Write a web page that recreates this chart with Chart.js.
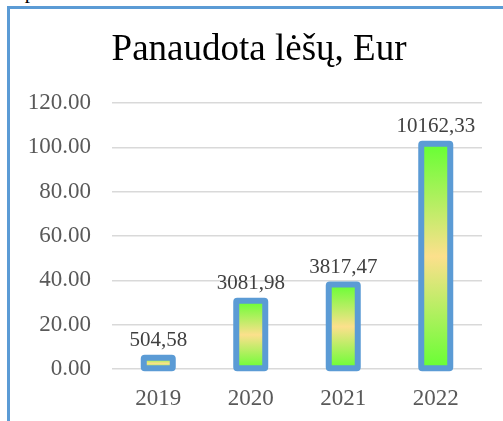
<!DOCTYPE html>
<html>
<head>
<meta charset="utf-8">
<script src="https://cdn.jsdelivr.net/npm/chart.js@4/dist/chart.umd.min.js"></script>
<style>
  html, body { margin: 0; padding: 0; background: #ffffff; overflow: hidden; }
  #frame { position: absolute; left: 7px; top: 6px; width: 600px; height: 500px;
           border: 3px solid #5b9bd5; background: #ffffff; box-sizing: border-box; }
  #cut { position: absolute; left: 9px; top: -21px; font: 21px "Liberation Serif", serif; color: #000; }
  #c { position: absolute; left: 0; top: 0; }
</style>
</head>
<body>
<div id="cut">3 pav.</div>
<div id="frame"></div>
<canvas id="c" width="503" height="421"></canvas>
<script>
const categories = ['2019', '2020', '2021', '2022'];
const values = [5.05, 30.82, 38.17, 101.62];
const valueLabels = ['504,58', '3081,98', '3817,47', '10162,33'];
const titleText = 'Panaudota lėšų, Eur';

const FONT = '"Liberation Serif", "Times New Roman", serif';
const BORDER_COLOR = '#5b9bd5';
const BORDER_W = 6;

function barGradient(ctx) {
  const chart = ctx.chart;
  const area = chart.chartArea;
  if (!area) return '#66ff33';
  const y = chart.scales.y;
  const top = y.getPixelForValue(ctx.raw);
  const base = y.getPixelForValue(0);
  const g = chart.ctx.createLinearGradient(0, top, 0, base);
  g.addColorStop(0, '#66ff33');
  g.addColorStop(0.5, '#fce08c');
  g.addColorStop(1, '#66ff33');
  return g;
}

function roundRect(ctx, x, y, w, h, r) {
  ctx.beginPath();
  ctx.moveTo(x + r, y);
  ctx.lineTo(x + w - r, y);
  ctx.arcTo(x + w, y, x + w, y + r, r);
  ctx.lineTo(x + w, y + h - r);
  ctx.arcTo(x + w, y + h, x + w - r, y + h, r);
  ctx.lineTo(x + r, y + h);
  ctx.arcTo(x, y + h, x, y + h - r, r);
  ctx.lineTo(x, y + r);
  ctx.arcTo(x, y, x + r, y, r);
  ctx.closePath();
}

// Title centred on the framed chart box (the frame starts at x≈9)
const titlePlugin = {
  id: 'frameTitle',
  afterDraw(chart) {
    const ctx = chart.ctx;
    ctx.save();
    ctx.font = '37px ' + FONT;
    ctx.fillStyle = '#000000';
    ctx.textAlign = 'center';
    ctx.textBaseline = 'alphabetic';
    ctx.fillText(titleText, 259, 60);
    ctx.restore();
  }
};

// Outline centred on each bar's edge (as in the reference), then value labels
const barDecorPlugin = {
  id: 'barDecor',
  afterDatasetsDraw(chart) {
    const ctx = chart.ctx;
    const meta = chart.getDatasetMeta(0);
    ctx.save();
    ctx.strokeStyle = BORDER_COLOR;
    ctx.lineWidth = BORDER_W;
    ctx.lineJoin = 'round';
    meta.data.forEach((bar) => {
      const p = bar.getProps(['x', 'y', 'base', 'width'], true);
      const left = p.x - p.width / 2;
      const top = Math.min(p.y, p.base);
      const h = Math.abs(p.base - p.y);
      roundRect(ctx, left, top, p.width, h, 1);
      ctx.stroke();
    });
    ctx.font = '21px ' + FONT;
    ctx.fillStyle = '#404040';
    ctx.textAlign = 'center';
    ctx.textBaseline = 'alphabetic';
    meta.data.forEach((bar, i) => {
      ctx.fillText(valueLabels[i], bar.x, bar.y - 11.5);
    });
    ctx.restore();
  }
};

new Chart(document.getElementById('c'), {
  type: 'bar',
  data: {
    labels: categories,
    datasets: [{
      data: values,
      backgroundColor: barGradient,
      borderWidth: 0,
      barThickness: 29
    }]
  },
  options: {
    responsive: false,
    devicePixelRatio: 1,
    animation: false,
    layout: { padding: { left: 0, right: 21, top: 103, bottom: 0 } },
    plugins: {
      legend: { display: false },
      tooltip: { enabled: false },
      title: { display: false }
    },
    scales: {
      x: {
        grid: { display: false },
        border: { display: false },
        ticks: { color: '#595959', font: { family: FONT, size: 23 }, padding: 8 },
        afterFit(scale) { scale.height = 52; }
      },
      y: {
        min: 0,
        max: 120,
        grid: { color: '#d9d9d9', lineWidth: 1.5, drawTicks: false },
        border: { display: false },
        ticks: {
          stepSize: 20,
          color: '#595959',
          font: { family: FONT, size: 23 },
          padding: 21,
          callback: (v) => Number(v).toFixed(2)
        },
        afterFit(scale) { scale.width = 112; }
      }
    }
  },
  plugins: [barDecorPlugin, titlePlugin]
});
</script>
</body>
</html>
